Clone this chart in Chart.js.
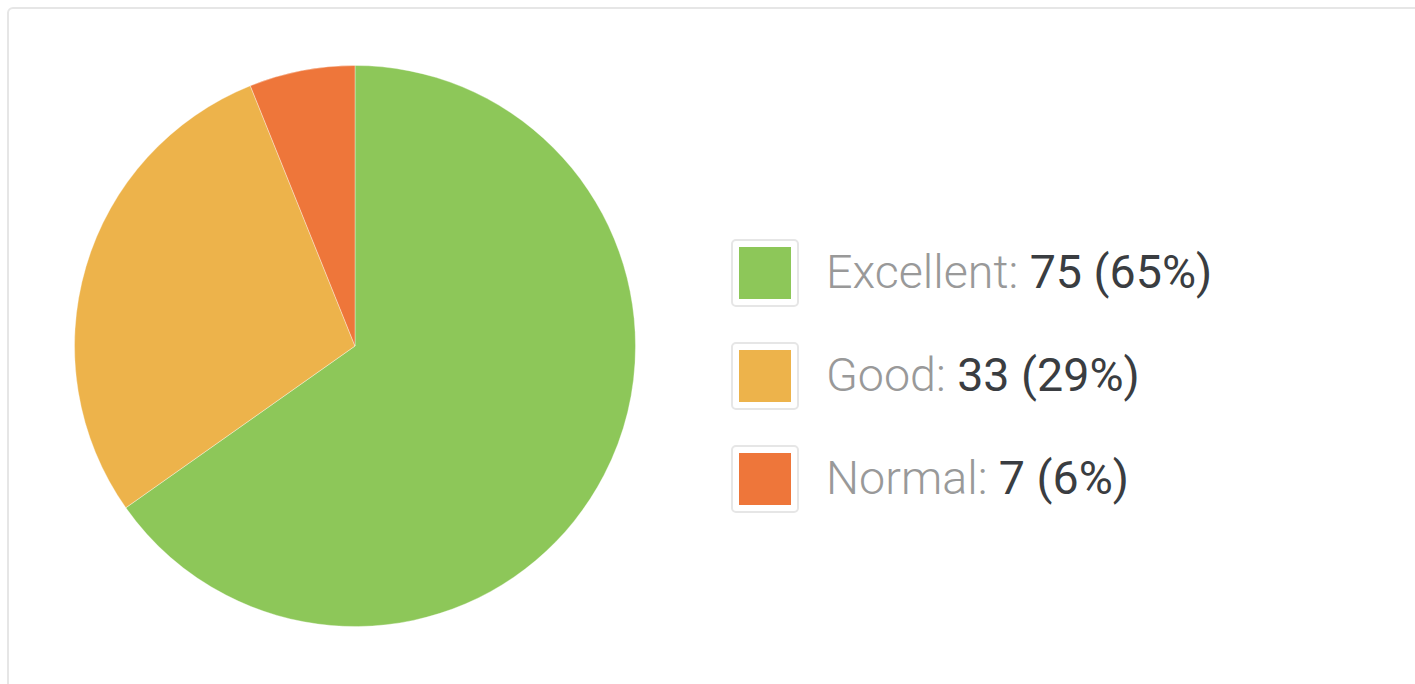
<!DOCTYPE html>
<html>
<head>
<meta charset="utf-8">
<script src="https://cdn.jsdelivr.net/npm/chart.js@4"></script>
<style>
  html, body { margin:0; padding:0; background:#fff; width:1415px; height:684px; overflow:hidden; font-family:Roboto, sans-serif; }
  .card { position:absolute; left:7px; top:7px; width:1500px; height:800px; border:2px solid #e6e6e6; border-radius:6px; box-sizing:border-box; }
  .pie-wrap { position:absolute; left:74px; top:65px; width:562px; height:562px; }
  .legend { position:absolute; left:731px; top:239px; }
  .leg-row { display:flex; align-items:center; height:68px; margin-bottom:35px; }
  .leg-box { width:68px; height:68px; box-sizing:border-box; border:2px solid #e6e6e6; border-radius:5px; padding:6px; margin-right:27px; }
  .leg-box span { display:block; width:100%; height:100%; }
  .leg-lbl { font-size:46.6px; font-weight:300; color:#999; white-space:nowrap; margin-top:-3px; }
  .leg-val { font-weight:400; color:#3a3d41; }
</style>
</head>
<body>
<div class="card"></div>
<div class="pie-wrap"><canvas id="pie"></canvas></div>
<div class="legend" id="legend"></div>
<script>
const labels = ['Excellent', 'Good', 'Normal'];
const values = [75, 33, 7];
const colors = ['#8dc759', '#edb34b', '#ee763a'];

const total = values.reduce((a, b) => a + b, 0);

// legenda em html, igual ao original
document.getElementById('legend').innerHTML = labels.map((l, i) => `
  <div class="leg-row">
    <div class="leg-box"><span style="background:${colors[i]}"></span></div>
    <div class="leg-lbl">${l}: <span class="leg-val">${values[i]} (${Math.round(values[i] / total * 100)}%)</span></div>
  </div>`).join('');

new Chart(document.getElementById('pie').getContext('2d'), {
  type: 'pie',
  data: {
    labels: labels,
    datasets: [{ data: values, backgroundColor: colors, borderColor: 'rgba(255,255,255,0.35)', borderWidth: 1, hoverOffset: 0 }]
  },
  options: {
    responsive: true, maintainAspectRatio: false, animation: false,
    layout: { padding: 0 },
    plugins: { legend: { display: false }, tooltip: { enabled: false } }
  }
});
</script>
</body>
</html>
